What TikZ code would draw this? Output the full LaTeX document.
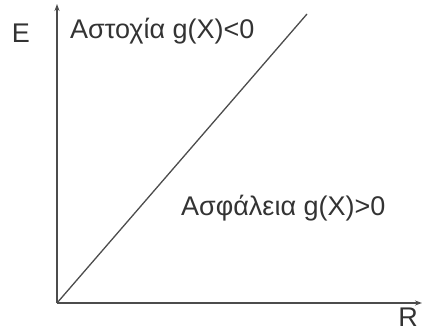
\documentclass[tikz,border=0pt]{standalone}
\usepackage{fontspec}
\setmainfont{Liberation Sans}
\usetikzlibrary{arrows.meta}
\begin{document}
\begin{tikzpicture}[x=1pt,y=-1pt,
  axis/.style={draw=black!70,line width=1.4pt,-{Stealth[length=7pt,width=5pt]}},
  lbl/.style={font=\fontsize{27}{30}\selectfont,text=black!80,inner sep=0pt}]
\useasboundingbox (0,0) rectangle (423,331);
\coordinate (O) at (57,303);
\coordinate (Etop) at (57,4);
\coordinate (Rend) at (422,303);
\coordinate (D) at (307,14);
\draw[axis] (O) -- (Etop);
\draw[axis] (O) -- (Rend);
\draw[draw=black!70,line width=1.3pt] (O) -- (D);
\node[lbl] (E) at (21,33) {E};
\node[lbl,anchor=base] (R) at (408,326) {R};
\node[lbl,anchor=west] (fail) at (70,31) {Αστοχία g(X)<0};
\node[lbl,anchor=west] (safe) at (181,208) {Ασφάλεια g(X)>0};
\end{tikzpicture}
\end{document}
